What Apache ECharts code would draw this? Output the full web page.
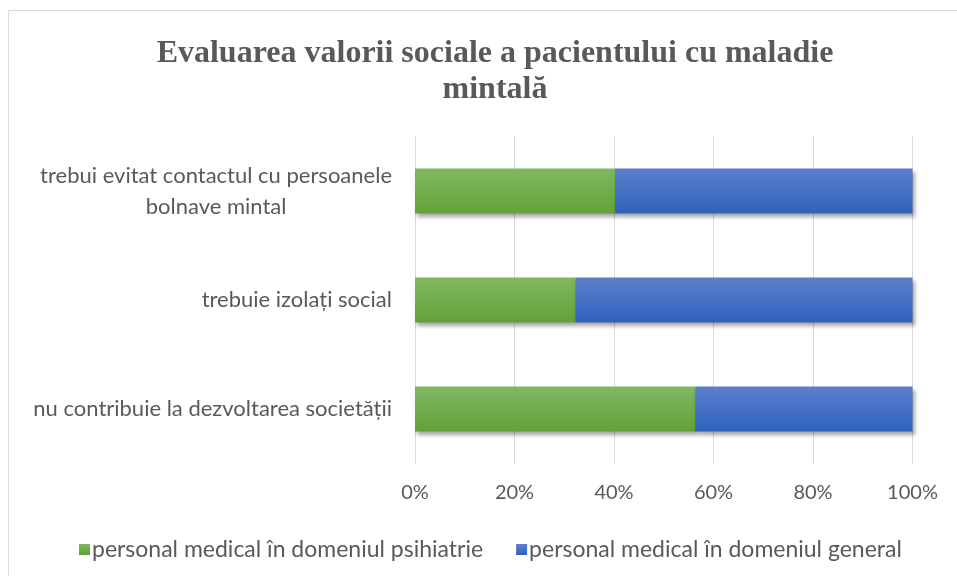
<!DOCTYPE html>
<html>
<head>
<meta charset="utf-8">
<script src="https://cdn.jsdelivr.net/npm/echarts@6/dist/echarts.min.js"></script>
<style>
  html, body { margin: 0; padding: 0; background: #ffffff; }
  #chart { width: 957px; height: 576px; }
</style>
</head>
<body>
<div id="chart"></div>
<script>
// Categories listed bottom-to-top (category axis draws the first item at the bottom)
const categories = [
  'nu contribuie la dezvoltarea societății',
  'trebuie izolați social',
  'trebui evitat contactul cu persoanele\nbolnave mintal'
];
const seriesNames = [
  'personal medical în domeniul psihiatrie',
  'personal medical în domeniul general'
];
// Shares in percent, each row sums to 100
const psihiatrie = [56.3, 32.2, 40.2];
const general = [43.7, 67.8, 59.8];
const tickLabels = ['0%', '20%', '40%', '60%', '80%', '100%'];

const textColor = '#595959';
const sansFont = 'Lato, "Open Sans", sans-serif';

function vGrad(top, bottom) {
  return new echarts.graphic.LinearGradient(0, 0, 0, 1, [
    { offset: 0, color: top },
    { offset: 1, color: bottom }
  ]);
}

const barShadow = {
  shadowColor: 'rgba(0,0,0,0.35)',
  shadowBlur: 4,
  shadowOffsetX: 2,
  shadowOffsetY: 3
};

const chart = echarts.init(document.getElementById('chart'), null, { renderer: 'canvas' });

chart.setOption({
  animation: false,
  backgroundColor: '#ffffff',
  graphic: [{
    type: 'rect',
    shape: { x: 8.5, y: 10.5, width: 980, height: 600 },
    style: { fill: 'none', stroke: '#d9d9d9', lineWidth: 1 },
    silent: true,
    z: -1
  }],
  title: {
    text: 'Evaluarea valorii sociale a pacientului cu maladie\nmintală',
    left: 490,
    top: 31,
    textAlign: 'center',
    textStyle: {
      fontFamily: '"Liberation Serif", "Times New Roman", serif',
      fontWeight: 'bold',
      fontSize: 32,
      lineHeight: 36,
      color: textColor
    }
  },
  legend: {
    data: seriesNames,
    left: 74,
    top: 533,
    itemWidth: 11,
    itemHeight: 11,
    itemGap: 33,
    icon: 'rect',
    textStyle: { fontFamily: sansFont, fontSize: 23, color: textColor, padding: [0, 0, 0, -3] }
  },
  grid: {
    left: 415,
    right: 44.5,
    top: 136.5,
    bottom: 112.5,
    containLabel: false
  },
  xAxis: {
    type: 'value',
    min: 0,
    max: 100,
    interval: 20,
    axisLine: { show: false },
    axisTick: { show: false },
    splitLine: { show: true, lineStyle: { color: '#d9d9d9', width: 1 } },
    axisLabel: {
      margin: 19,
      fontFamily: sansFont,
      fontSize: 20,
      color: textColor,
      formatter: function (v) { return tickLabels[Math.round(v / 20)]; }
    }
  },
  yAxis: {
    type: 'category',
    data: categories,
    axisLine: { show: false },
    axisTick: { show: false },
    splitLine: { show: false },
    axisLabel: {
      margin: 23,
      formatter: function (v) {
        return v.split('\n').map(function (s) { return '{c|' + s + '}'; }).join('\n');
      },
      rich: {
        c: {
          align: 'center',
          fontFamily: sansFont,
          fontSize: 22,
          lineHeight: 31,
          color: textColor
        }
      }
    }
  },
  series: [
    {
      name: seriesNames[0],
      type: 'bar',
      stack: 'total',
      barWidth: 45,
      data: psihiatrie,
      itemStyle: Object.assign({ color: vGrad('#80b862', '#62a238') }, barShadow)
    },
    {
      name: seriesNames[1],
      type: 'bar',
      stack: 'total',
      barWidth: 45,
      data: general,
      itemStyle: Object.assign({ color: vGrad('#5b80cc', '#2f62bd') }, barShadow)
    }
  ]
});
</script>
</body>
</html>
